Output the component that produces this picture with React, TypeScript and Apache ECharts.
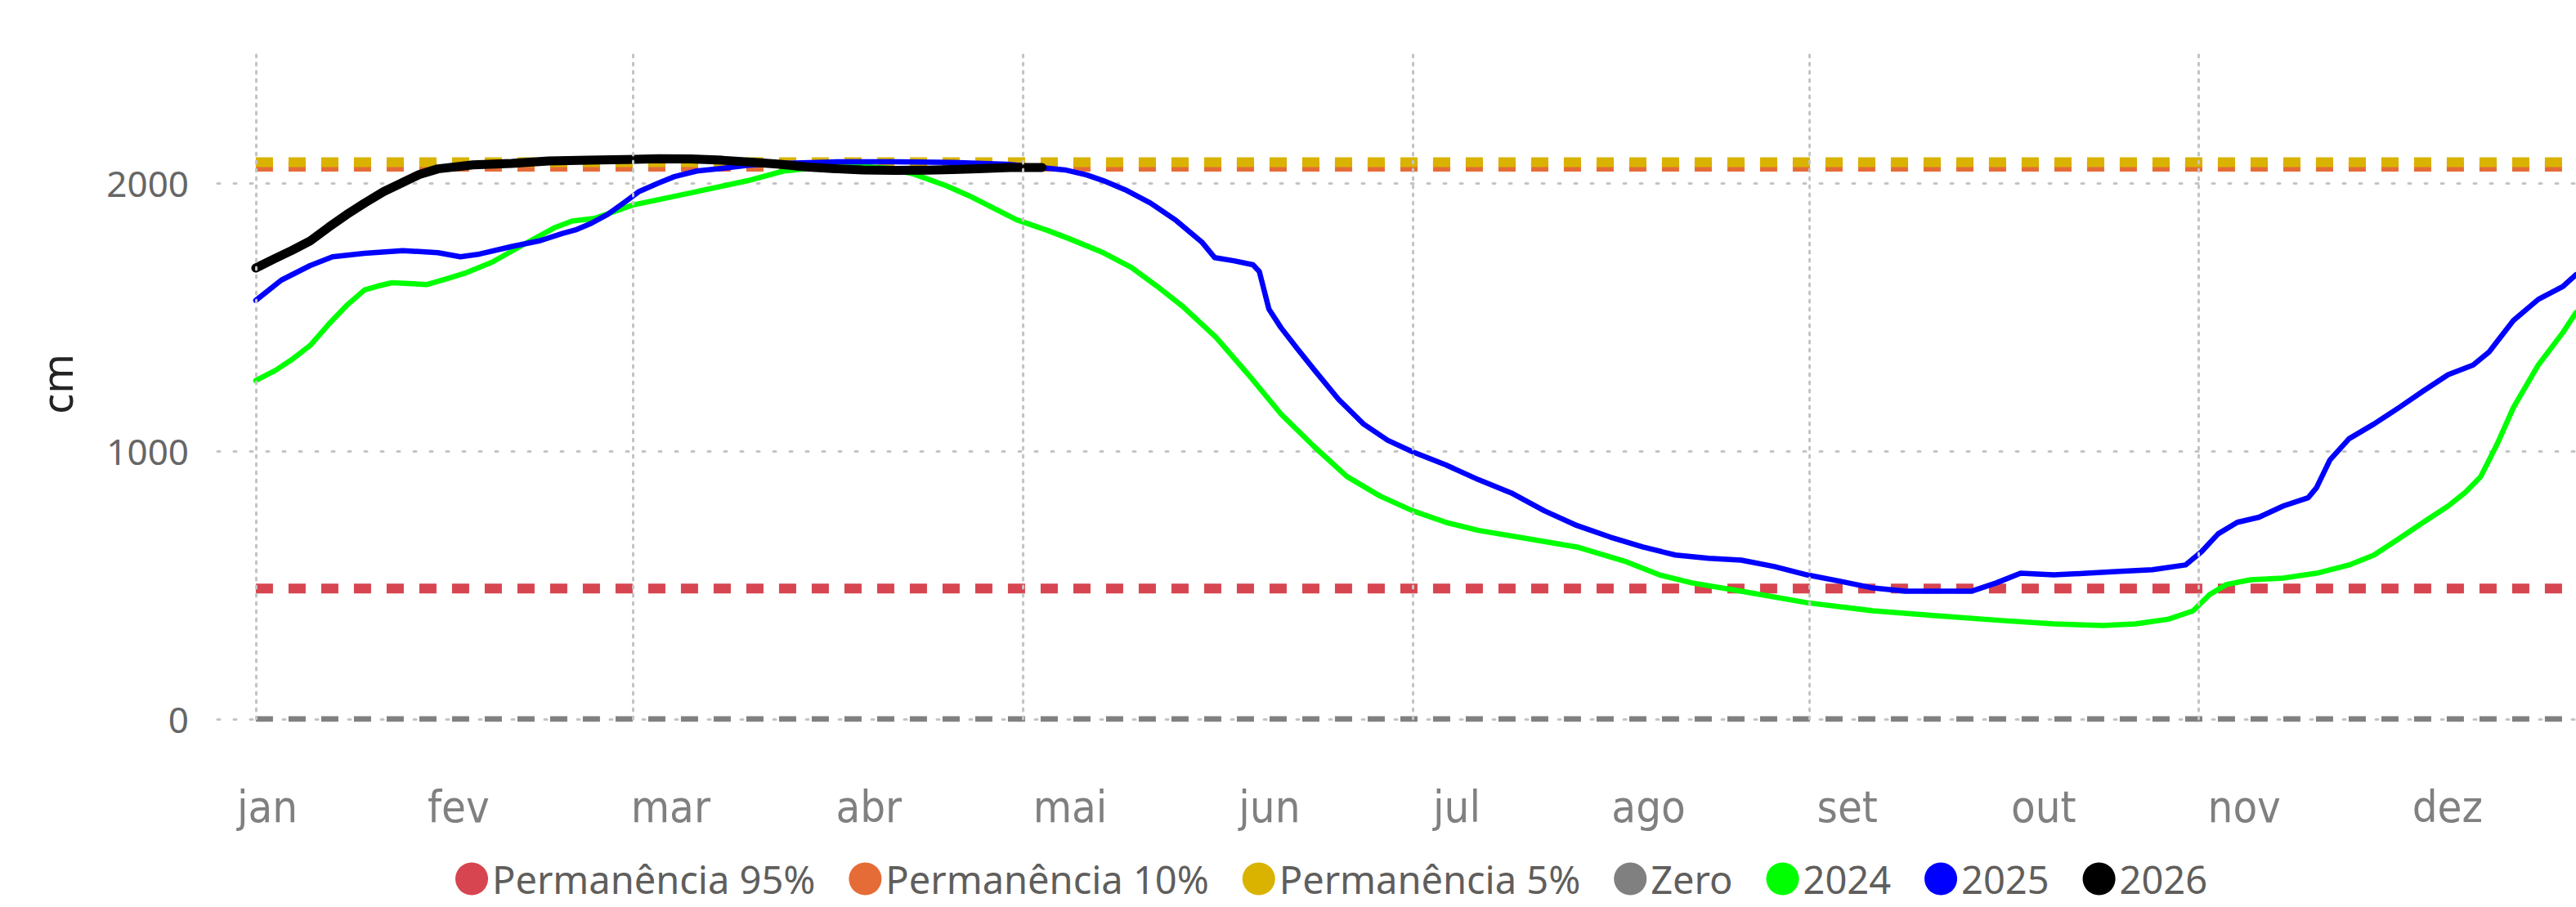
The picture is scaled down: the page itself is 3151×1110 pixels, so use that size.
import React, { useEffect, useRef } from 'react';
import * as echarts from 'echarts';

// Axis labels
const monthNames = ['jan', 'fev', 'mar', 'abr', 'mai', 'jun', 'jul', 'ago', 'set', 'out', 'nov', 'dez'];
const monthLabelDays = [1.8, 31.7, 64.9, 95.9, 127.4, 158.6, 187.9, 217.9, 249, 279.7, 311.1, 342.9];
const gridDays = [0, 59, 120, 181, 243, 304];
const legendNames = ['Permanência 95%', 'Permanência 10%', 'Permanência 5%', 'Zero', '2024', '2025', '2026'];

// Reference levels (cm)
const perm95 = 487;
const perm10 = 2061;
const perm5 = 2078;
const zeroLevel = 0;
const refDays = [0, 363];

// 2024
const days2024 = [0, 3, 5.5, 8.5, 11.4, 14.2, 17, 19, 21.3, 24, 26.7, 30, 33, 37, 42, 46.7, 49.5, 53, 59, 68, 77, 82.6, 88, 94, 99, 103, 108, 112, 119, 124, 127.5, 132.6, 137, 141, 145, 150.2, 155.3, 160.4, 165.6, 170.7, 175.9, 181, 186.2, 191.3, 199, 206.7, 214.4, 219.6, 224.7, 232.4, 242.7, 253, 263.3, 273.6, 281.3, 289, 294.1, 299.3, 303.1, 305.7, 308.3, 312.1, 317.2, 322.4, 327.5, 331.4, 335.3, 339.1, 343, 345.6, 348.1, 350.7, 353.2, 357.1, 361, 363];
const vals2024 = [1263, 1300, 1339, 1394, 1473, 1543, 1601, 1615, 1628, 1625, 1621, 1644, 1666, 1705, 1772, 1833, 1858, 1868, 1918, 1963, 2009, 2045, 2058, 2064, 2055, 2033, 1990, 1948, 1863, 1822, 1790, 1740, 1685, 1615, 1540, 1425, 1285, 1138, 1016, 905, 832, 777, 734, 704, 673, 642, 587, 538, 508, 477, 434, 404, 385, 367, 355, 349, 355, 373, 404, 465, 502, 520, 526, 544, 575, 612, 673, 734, 795, 844, 905, 1028, 1162, 1321, 1444, 1517];

// 2025
const days2025 = [0, 4, 8.5, 12, 17, 23, 28.5, 32, 35, 40, 44.5, 48, 50, 52.5, 55, 57.5, 60, 63, 65.5, 69, 73, 77, 82, 91, 100, 109, 117.5, 122, 126.6, 130, 132.6, 136, 140, 144, 148, 150, 153, 156, 157, 158.5, 160.4, 163, 165.6, 169.4, 173.3, 177.1, 181, 186.2, 191.3, 196.4, 201.6, 206.7, 211.9, 217, 222.1, 227.3, 232.4, 237.6, 242.7, 247.9, 253, 258.1, 263.3, 268.4, 272.3, 276.1, 281.3, 286.4, 291.6, 296.7, 301.9, 304.4, 307, 310, 313.4, 317.2, 321.1, 322.4, 324.5, 327.5, 331.4, 335.3, 339.1, 343, 346.9, 349.4, 353.2, 357.1, 361, 363];
const vals2025 = [1562, 1638, 1692, 1725, 1738, 1748, 1740, 1725, 1735, 1763, 1785, 1812, 1825, 1850, 1882, 1925, 1969, 2000, 2024, 2045, 2055, 2066, 2073, 2079, 2079, 2077, 2070, 2060, 2049, 2030, 2009, 1975, 1925, 1860, 1780, 1722, 1710, 1695, 1670, 1530, 1460, 1380, 1303, 1193, 1101, 1040, 997, 948, 893, 844, 777, 722, 679, 642, 612, 600, 593, 569, 538, 514, 489, 477, 477, 477, 508, 544, 538, 544, 551, 557, 575, 624, 691, 734, 753, 795, 826, 863, 967, 1046, 1101, 1162, 1224, 1285, 1321, 1370, 1487, 1566, 1615, 1658];

// 2026
const days2026 = [0, 2.8, 5.6, 8.5, 11.4, 14.2, 17, 20, 22.8, 25.6, 28.5, 34, 40, 45.8, 52, 58, 63, 68, 73, 78, 82, 86, 91, 95, 100, 105, 109, 113, 118, 123];
const vals2026 = [1683, 1716, 1748, 1784, 1835, 1882, 1925, 1968, 2000, 2032, 2053, 2068, 2073, 2082, 2085, 2088, 2091, 2090, 2085, 2077, 2070, 2060, 2053, 2049, 2047, 2048, 2050, 2053, 2058, 2058];

const zip = (xs: number[], ys: number[]) => xs.map((x, i) => [x, ys[i]]);

const refSeries = (name: string, value: number, color: string, width: number) => ({
  name,
  type: 'line',
  data: refDays.map((d) => [d, value]),
  symbol: 'none',
  itemStyle: { color },
  lineStyle: { color, width, type: [21, 19], cap: 'butt' },
});

const yearSeries = (name: string, xs: number[], ys: number[], color: string, width: number) => ({
  name,
  type: 'line',
  data: zip(xs, ys),
  symbol: 'none',
  itemStyle: { color },
  lineStyle: { color, width, cap: 'round', join: 'round' },
});

const option: any = {
  animation: false,
  backgroundColor: '#ffffff',
  grid: { left: 266, right: 0, top: 60, bottom: 230, outerBoundsMode: 'none' },
  legend: {
    data: legendNames,
    left: 557,
    top: 1052,
    padding: 0,
    icon: 'circle',
    itemWidth: 40,
    itemHeight: 40,
    itemGap: 41,
    textStyle: { fontSize: 47, color: '#605E5C', fontFamily: "'Noto Sans', 'Open Sans', sans-serif" },
  },
  xAxis: {
    type: 'value',
    min: -6,
    max: 363,
    axisLine: { show: false },
    axisTick: { show: false },
    splitLine: { show: false },
    axisLabel: {
      customValues: monthLabelDays,
      formatter: (v: number) => {
        const i = monthLabelDays.indexOf(v);
        return i >= 0 ? monthNames[i] : '';
      },
      fontSize: 54,
      color: '#808080',
      margin: 80,
      fontFamily: "'DejaVu Sans Condensed', 'Roboto', sans-serif",
    },
  },
  yAxis: {
    type: 'value',
    min: 0,
    max: 2500,
    interval: 1000,
    name: 'cm',
    nameLocation: 'middle',
    nameGap: 172,
    nameTextStyle: { fontSize: 52, color: '#252423', fontFamily: "'Noto Sans', sans-serif" },
    axisLine: { show: false },
    axisTick: { show: false },
    axisLabel: {
      showMaxLabel: false,
      formatter: (v: number) => String(v),
      fontSize: 44,
      color: '#666666',
      margin: 35,
      fontFamily: "'Noto Sans', 'Open Sans', sans-serif",
    },
    splitLine: {
      show: true,
      showMaxLine: false,
      lineStyle: { color: '#c4c4c4', width: 3, type: [3, 17], cap: 'round' },
    },
  },
  series: [
    {
      name: 'grid',
      type: 'line',
      data: [],
      silent: true,
      markLine: {
        silent: true,
        symbol: ['none', 'none'],
        label: { show: false },
        lineStyle: { color: '#c4c4c4', width: 3, type: [3, 7], cap: 'round' },
        data: gridDays.map((d) => ({ xAxis: d })),
      },
    },
    refSeries('Zero', zeroLevel, '#808080', 7),
    refSeries('Permanência 95%', perm95, '#D64550', 12),
    refSeries('Permanência 10%', perm10, '#E66C37', 12),
    refSeries('Permanência 5%', perm5, '#D9B300', 12),
    yearSeries('2024', days2024, vals2024, '#00FF00', 6.5),
    yearSeries('2025', days2025, vals2025, '#0000FF', 6.5),
    yearSeries('2026', days2026, vals2026, '#000000', 11),
  ],
};

export default function App() {
  const ref = useRef<HTMLDivElement>(null);
  useEffect(() => {
    document.body.style.margin = '0';
    const chart = echarts.init(ref.current as HTMLDivElement, null, { renderer: 'svg' });
    chart.setOption(option);
    return () => chart.dispose();
  }, []);
  return <div ref={ref} style={{ width: 3151, height: 1110 }} />;
}
